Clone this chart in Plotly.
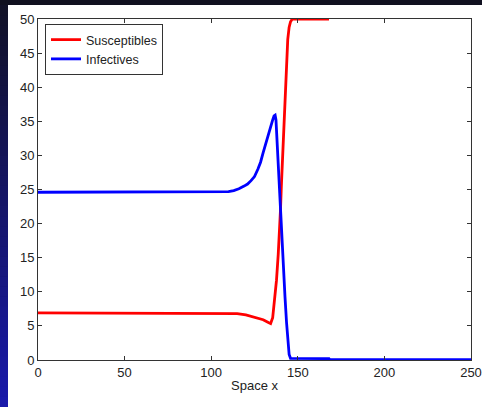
import plotly.graph_objects as go

# ---- data ----
sus_x = [0, 110, 115, 120, 125, 130, 133, 134.3, 135.5, 136.5, 137.7, 138.7, 139.6, 140.0,
         140.5, 141.5, 142.4, 143.3, 144.2, 145.0, 145.8, 146.8, 168]
sus_y = [6.9, 6.9, 6.8, 6.6, 6.3, 5.9, 5.5, 5.35, 6.2, 8.3, 11.7, 15.5, 19.5, 22.0,
         25.5, 32.0, 38.0, 43.5, 47.0, 48.8, 49.6, 50.0, 50.0]

inf_x = [0, 85, 85.5, 110, 113, 116, 119, 121, 123, 125, 127, 128.5, 130, 131.5, 133,
         134.3, 135.5, 136.3, 136.9, 137.4, 138.0, 138.7, 139.3, 140.0, 140.6, 141.5,
         142.6, 143.5, 144.3, 145.0, 145.8, 168, 168.5, 250]
inf_y = [24.6, 24.6, 24.7, 24.7, 24.85, 25.1, 25.5, 25.8, 26.3, 26.9, 28.0, 29.0, 30.4, 31.8, 33.1,
         34.2, 35.2, 35.8, 35.9, 35.2, 32.0, 28.3, 25.0, 22.0, 18.5, 13.5,
         9.3, 5.5, 2.4, 0.8, 0.25, 0.2, 0.05, 0.05]

x_ticks = [0, 50, 100, 150, 200, 250]
y_ticks = [0, 5, 10, 15, 20, 25, 30, 35, 40, 45, 50]

# ---- layout geometry (pixels) ----
W, H = 482, 407
L, R, T, B = 38, 11.3, 19, 47
pw, ph = W - L - R, H - T - B


def px(xpix):
    return (xpix - L) / pw


def py(ypix):
    return 1 - (ypix - T) / ph


shapes = []
# white slide area
shapes.append(dict(type="rect", xref="paper", yref="paper", x0=px(8), x1=px(W + 2),
                   y0=py(H + 2), y1=py(5), fillcolor="white", line=dict(width=0), layer="below"))
# left gradient strip
n = 40
c0 = (18, 18, 40)
c1 = (26, 26, 170)
for i in range(n):
    t = i / (n - 1)
    col = tuple(int(c0[k] + (c1[k] - c0[k]) * t) for k in range(3))
    y_top = 5 + (H - 5) * i / n
    y_bot = 5 + (H - 5) * (i + 1) / n
    shapes.append(dict(type="rect", xref="paper", yref="paper", x0=px(-1), x1=px(8),
                       y0=py(y_bot + 0.5), y1=py(y_top), fillcolor="rgb(%d,%d,%d)" % col,
                       line=dict(width=0), layer="below"))

font = dict(family="Liberation Sans, Arial, sans-serif", size=13, color="#222")

fig = go.Figure()
fig.add_trace(go.Scatter(x=sus_x, y=sus_y, mode="lines", name="Susceptibles",
                         line=dict(color="#ff0000", width=2.8)))
fig.add_trace(go.Scatter(x=inf_x, y=inf_y, mode="lines", name="Infectives",
                         line=dict(color="#0000ff", width=2.8)))

axis_common = dict(showline=True, linecolor="#333", linewidth=1, mirror="allticks",
                   ticks="inside", ticklen=4, tickcolor="#333", showgrid=False,
                   zeroline=False, tickfont=font, automargin=False)

fig.update_layout(
    width=W, height=H,
    margin=dict(l=L, r=R, t=T, b=B, autoexpand=False),
    paper_bgcolor="#111120",
    plot_bgcolor="white",
    shapes=shapes,
    font=font,
    showlegend=True,
    legend=dict(x=px(45), y=py(24), xanchor="left", yanchor="top",
                bgcolor="white", bordercolor="#333", borderwidth=1,
                font=dict(family=font["family"], size=12.5, color="#222"),
                tracegroupgap=0, itemwidth=30),
    xaxis=dict(range=[0, 250], tickvals=x_ticks, ticktext=[str(v) for v in x_ticks],
               title=dict(text="Space x", font=font, standoff=2), **axis_common),
    yaxis=dict(range=[0, 50], tickvals=y_ticks, ticktext=[str(v) for v in y_ticks],
               **axis_common),
)

fig.write_html("out.html", config={"displayModeBar": False},
               post_script="document.body.style.margin='0px';document.body.style.overflow='hidden';")
